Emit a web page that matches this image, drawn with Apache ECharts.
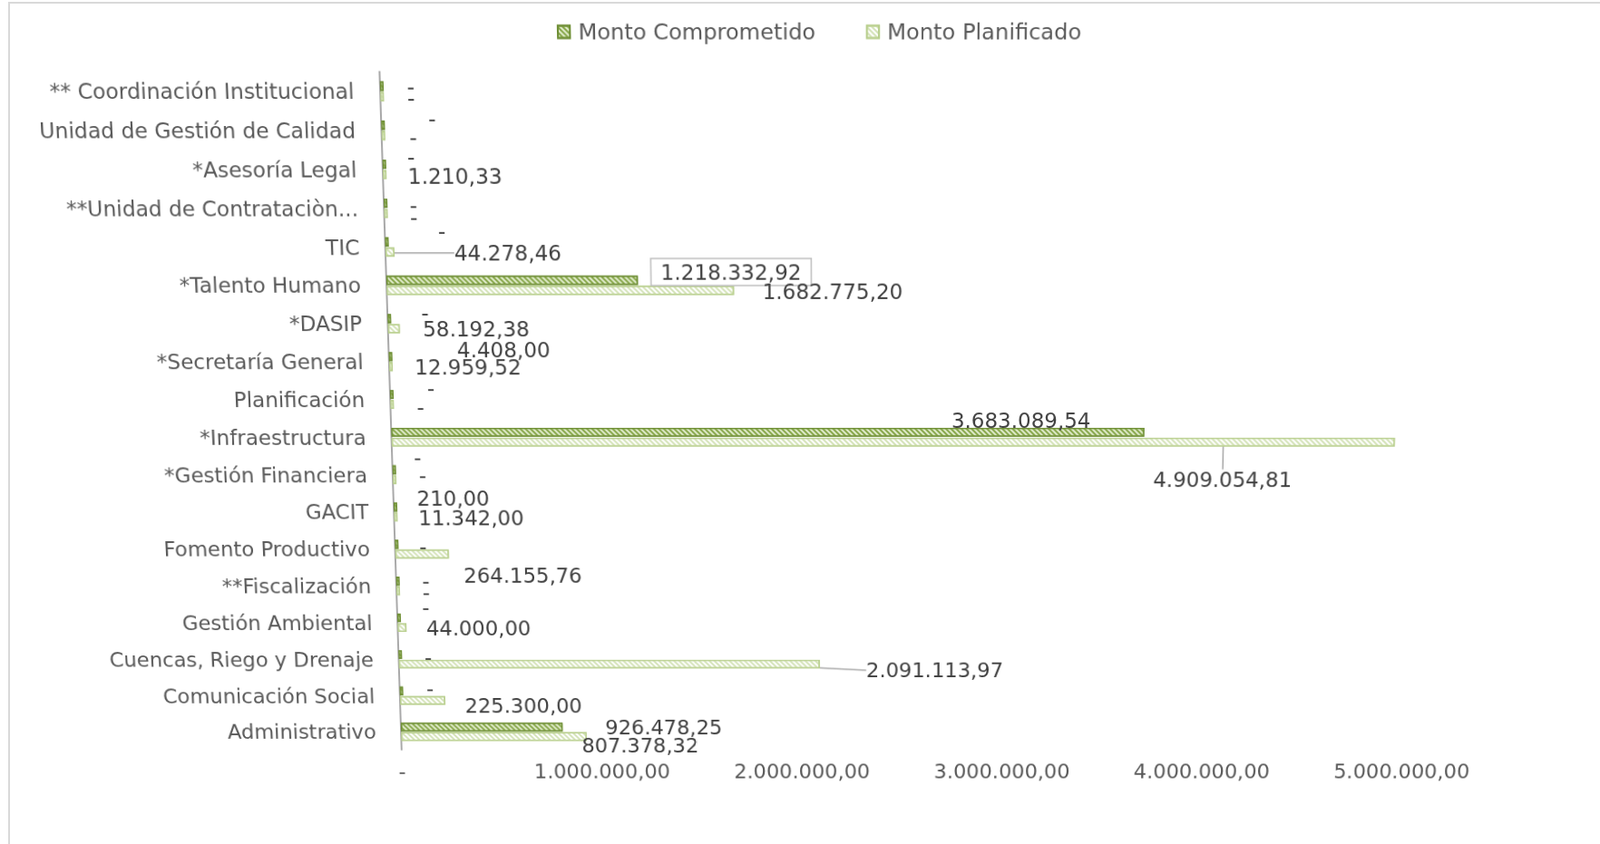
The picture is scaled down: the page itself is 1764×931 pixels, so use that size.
<!DOCTYPE html>
<html>
<head>
<meta charset="utf-8">
<script src="https://cdn.jsdelivr.net/npm/echarts@6/dist/echarts.min.js"></script>
<style>
  html, body { margin: 0; padding: 0; background: #fff; overflow: hidden; }
  #frame { position: absolute; left: 9px; top: 2px; width: 1800px; height: 1000px; border: 2px solid #D9D9D9; box-sizing: border-box; }
  #chart { position: absolute; left: 0; top: 0; width: 1764px; height: 931px;
           transform: perspective(2000px) rotateX(-6.9deg) skewX(0.3deg); transform-origin: 50% 50%; }
</style>
</head>
<body>
<div id="frame"></div>
<div id="chart"></div>
<script>
// ---- data ----
const categories = [
  '** Coordinación Institucional',
  'Unidad de Gestión de Calidad',
  '*Asesoría Legal',
  '**Unidad de Contrataciòn...',
  'TIC',
  '*Talento Humano',
  '*DASIP',
  '*Secretaría General',
  'Planificación',
  '*Infraestructura',
  '*Gestión Financiera',
  'GACIT',
  'Fomento Productivo',
  '**Fiscalización',
  'Gestión Ambiental',
  'Cuencas, Riego y Drenaje',
  'Comunicación Social',
  'Administrativo'
];
const montoComprometido = [0, 0, 0, 0, 0, 1218332.92, 0, 4408.00, 0, 3683089.54, 0, 210.00, 0, 0, 0, 0, 0, 807378.32];
const montoPlanificado  = [0, 0, 1210.33, 0, 44278.46, 1682775.20, 58192.38, 12959.52, 0, 4909054.81, 0, 11342.00, 264155.76, 0, 44000.00, 2091113.97, 225300.00, 926478.25];
const axisTicks = [0, 1000000, 2000000, 3000000, 4000000, 5000000];

// ---- label placement (styling only) ----
const compLabelShift = [[20,0],[42,-8],[18,-8],[19,2],[49,-12],[10,-9],[28,-7],[66,-8],[32,-7],[-218,-13],[15,-14],[17,-10],[18,2],[20,-1],[19,-12],[20,3],[21,-3],[16,21]];
const planLabelShift = [[20,1],[21,1],[18,2],[19,4],[60,1],[26,1],[20,0],[19,0],[20,3],[-271,42],[20,-5],[18,1],[11,24],[20,1],[17,1],[47,7],[17,6],[16,-11]];
const planLeader = [4, 9, 15];
const boxedComp = [5];

function fmt(v) {
  if (!v) return '-';
  const parts = Math.abs(v).toFixed(2).split('.');
  return parts[0].replace(/\B(?=(\d{3})+(?!\d))/g, '.') + ',' + parts[1];
}

const FONT = 'DejaVu Sans';
const TXT = '#595959';

const chart = echarts.init(document.getElementById('chart'), null, { renderer: 'svg' });

const compData = montoComprometido.map((v, i) => {
  const item = { value: v };
  if (boxedComp.includes(i)) {
    item.label = { borderColor: '#BFBFBF', borderWidth: 1.5, padding: [3, 10, 2, 10], backgroundColor: '#ffffff' };
  }
  return item;
});
const planData = montoPlanificado.map((v, i) => {
  const item = { value: v };
  if (planLeader.includes(i)) item.labelLine = { show: true };
  return item;
});

const labelBase = {
  show: true,
  position: 'right',
  distance: 5,
  color: '#404040',
  fontFamily: FONT,
  fontSize: 23,
  formatter: p => fmt(p.value)
};

const barDecal = (c) => ({
  symbol: 'rect',
  symbolSize: 1,
  color: c,
  dashArrayX: [1, 0],
  dashArrayY: [2, 2],
  rotation: Math.PI / 4
});

const option = {
  animation: false,
  backgroundColor: 'transparent',
  legend: {
    top: 26,
    left: 618,
    icon: 'rect',
    itemWidth: 13,
    itemHeight: 13,
    itemGap: 54,
    textStyle: { color: TXT, fontFamily: FONT, fontSize: 23.5, padding: [0, 0, 0, 4] },
    data: ['Monto Comprometido', 'Monto Planificado']
  },
  grid: { left: 431, right: 205, top: 85, bottom: 93, containLabel: false },
  xAxis: {
    type: 'value',
    min: axisTicks[0],
    max: axisTicks[axisTicks.length - 1],
    interval: axisTicks[1] - axisTicks[0],
    axisLine: { show: false },
    axisTick: { show: false },
    splitLine: { show: false },
    axisLabel: {
      color: TXT, fontFamily: FONT, fontSize: 23, margin: 13,
      formatter: v => (v === 0 ? '-' : fmt(v))
    }
  },
  yAxis: {
    type: 'category',
    data: categories,
    inverse: true,
    axisLine: { show: true, lineStyle: { color: '#8C8C8C', width: 1.5 } },
    axisTick: { show: false },
    axisLabel: { color: TXT, fontFamily: FONT, fontSize: 23, margin: 28 }
  },
  series: [
    {
      name: 'Monto Comprometido',
      type: 'bar',
      data: compData,
      barWidth: 10,
      barGap: '10%',
      barMinHeight: 4,
      itemStyle: {
        color: '#E1ECCD',
        borderColor: '#6E8E34',
        borderWidth: 1.4,
        decal: barDecal('#86A648')
      },
      label: labelBase,
      labelLine: { show: false, lineStyle: { color: '#A6A6A6', width: 1.5 } },
      labelLayout: p => ({ dx: compLabelShift[p.dataIndex][0], dy: compLabelShift[p.dataIndex][1] })
    },
    {
      name: 'Monto Planificado',
      type: 'bar',
      data: planData,
      barWidth: 10,
      barGap: '10%',
      barMinHeight: 4,
      itemStyle: {
        color: '#FFFFFF',
        borderColor: '#B9CF8E',
        borderWidth: 1.4,
        decal: barDecal('#D3E2B6')
      },
      label: labelBase,
      labelLine: { show: false, lineStyle: { color: '#A6A6A6', width: 1.5 } },
      labelLayout: p => ({ dx: planLabelShift[p.dataIndex][0], dy: planLabelShift[p.dataIndex][1] })
    }
  ]
};
chart.setOption(option);
</script>
</body>
</html>
